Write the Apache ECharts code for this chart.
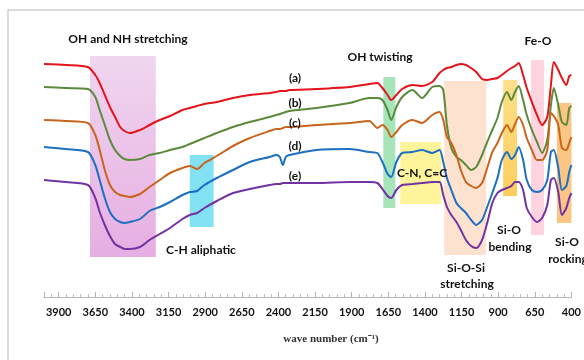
<!DOCTYPE html>
<html><head><meta charset="utf-8">
<script src="https://cdn.jsdelivr.net/npm/echarts@6/dist/echarts.min.js"></script>
<style>html,body{margin:0;padding:0;background:#fff;}#c{width:584px;height:360px;}</style>
</head><body><div id="c"></div>
<script>
// wavenumbers (cm-1)
const waveNumbers = [4000,3850,3700,3650,3620,3585,3550,3515,3480,3450,3415,3345,3280,3210,3140,3055,3005,2955,2905,2820,2710,2595,2460,2415,2390,2370,2350,2325,2140,1915,1780,1725,1690,1655,1630,1595,1555,1485,1420,1350,1300,1275,1250,1220,1185,1155,1120,1085,1050,1010,975,940,905,875,840,810,785,760,730,705,670,635,600,565,540,520,490,465,435,415,400];
// offset transmittance (a.u.)
const seriesA = [233,232,230,222,214,202,190,180,170,166,164,167,172,177,181,187,189,191,193,195,199,202,204,205,206,206,206,207,208,210,213,214,209,202,197,202,208,212,211,215,224,227,229,230,232,233,232,229,225,218,217,218,219,222,226,229,231,234,222,209,195,182,172,180,212,235,227,219,212,221,222];
const seriesB = [210,209,208,200,187,172,157,147,141,138,137,138,142,144,147,150,153,156,159,164,170,175,180,182,183,184,185,186,189,194,199,199,197,187,177,190,200,207,199,210,211,207,172,149,140,137,132,127,130,142,155,167,179,195,205,197,205,211,197,182,167,155,144,157,192,209,192,175,172,189,191];
const seriesC = [177,176,174,162,147,127,112,105,102,101,100,103,110,117,124,129,131,128,134,141,151,159,166,168,168,169,170,170,172,174,176,169,172,167,160,165,172,177,174,182,185,177,160,154,142,127,115,111,109,114,129,145,154,164,172,165,173,180,172,159,147,137,137,147,184,181,172,149,147,154,160];
const seriesD = [150,148,145,132,117,99,85,78,75,74,75,78,86,90,95,102,105,106,112,119,127,135,140,142,140,132,140,142,147,148,145,144,135,123,120,135,144,145,147,144,147,135,119,107,94,89,84,77,72,77,90,104,119,137,145,138,142,150,137,117,107,105,107,117,145,147,129,107,111,125,132];
const seriesE = [117,115,112,99,85,72,61,53,50,48,48,50,57,63,69,78,82,84,89,96,104,108,112,113,113,114,114,114,114,115,115,114,108,101,99,107,112,113,114,115,115,102,90,82,75,67,57,51,49,57,74,94,104,107,109,111,115,115,107,89,80,75,79,92,117,119,105,82,89,99,104];
const seriesNames = ['(a)','(b)','(c)','(d)','(e)'];
const seriesColors = ['#e3141b','#5b8a3a','#c9641c','#1d6fc0','#7332a2'];
const xTicks = {min: 400, max: 4000, interval: 250};
// assignment bands: [wnHigh, wnLow, yLow, yHigh]
const bandRanges = [[3686,3237,40,241],[3005,2842,70,142],[1684,1602,89,220],[1568,1289,93,155],[1268,982,42,216],[866,771,101,217],[676,587,62,237],[499,400,74,194]];
const bandColors = [
  {type:'linear',x:0,y:0,x2:0,y2:1,colorStops:[{offset:0,color:'#f0d6ef'},{offset:1,color:'#e6aee2'}]},
  '#82e2f4','#a6e5b9','#fff49a','#fde2d0',
  {type:'linear',x:0,y:0,x2:0,y2:1,colorStops:[{offset:0,color:'#fde08a'},{offset:1,color:'#fccd5e'}]},
  '#ffd4df','#fbc684'];
const annotations = [
  ['OH and NH stretching',128,39],['OH twisting',380,57],['Fe-O',538,41],
  ['(a)',295,78],['(b)',295,103],['(c)',295,123],['(d)',295,146],['(e)',295,176],
  ['C-H aliphatic',201,250],['C-N, C=C',422,173],
  ['Si-O-Si',466,268],['stretching',467,284],
  ['Si-O',509,230],['bending',510,247],
  ['Si-O',567,242],['rocking',568,259]];

const allSeries = [seriesA, seriesB, seriesC, seriesD, seriesE];
const chart = echarts.init(document.getElementById('c'));
const series = allSeries.map((vals, i) => ({
  name: seriesNames[i], type: 'line', showSymbol: false, symbol: 'none', smooth: 0.25,
  z: 3, lineStyle: {color: seriesColors[i], width: 2}, itemStyle: {color: seriesColors[i]},
  data: waveNumbers.map((w, j) => [w, vals[j]])
}));
series.unshift({
  type: 'line', data: [], z: 1, silent: true,
  markArea: {silent: true, data: bandRanges.map((b, i) => [
    {xAxis: b[0], yAxis: b[2], itemStyle: {color: bandColors[i], opacity: 1}},
    {xAxis: b[1], yAxis: b[3]}])}
});
const graphics = [
  {type:'rect', shape:{x:8,y:10,width:620,height:400}, style:{fill:'none', stroke:'#cfcfcf', lineWidth:1.5}, z:0},
  {type:'text', x:331, y:339, style:{text:'wave number (cm⁻¹)', fontFamily:'Liberation Serif', fontWeight:'bold', fontSize:11, fill:'#333', textAlign:'center', textVerticalAlign:'middle'}, z:10}
];
annotations.forEach(a => graphics.push({type:'text', x:a[1], y:a[2], z:10,
  style:{text:a[0], fontFamily:'Lato', fontWeight:'bold', fontSize:12, fill:'#111', textAlign:'center', textVerticalAlign:'middle'}}));
chart.setOption({
  animation: false,
  grid: {left: 44, right: 11.5, top: 40, bottom: 63, containLabel: false},
  xAxis: {type:'value', inverse:true, min:xTicks.min, max:xTicks.max, interval:xTicks.interval,
    axisLine:{show:true, lineStyle:{color:'#b8b8b8', width:1}},
    axisTick:{show:true, inside:true, length:5, lineStyle:{color:'#b0b0b0'}},
    minorTick:{show:true, splitNumber:5, length:3, lineStyle:{color:'#c0c0c0'}},
    splitLine:{show:false}, minorSplitLine:{show:false},
    axisLabel:{showMaxLabel:false, margin:10, fontFamily:'Lato', fontWeight:'bold', fontSize:11, color:'#111',
      formatter: v => String(v)}},
  yAxis: {type:'value', min:0, max:257, show:false, splitLine:{show:false}},
  series: series,
  graphic: graphics
});
</script></body></html>
